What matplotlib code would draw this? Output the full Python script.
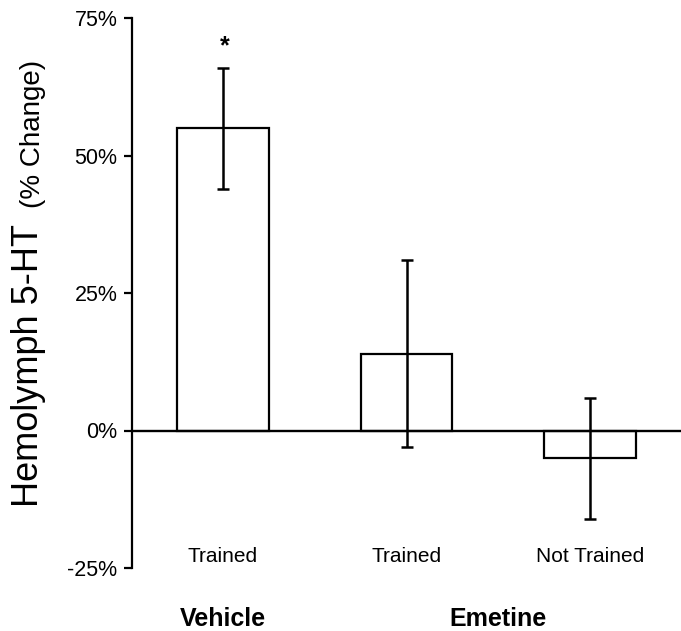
import matplotlib
matplotlib.use("Agg")
from matplotlib import pyplot as plt
import numpy as np

# values (% change of hemolymph 5-HT)
conditions = ["Trained", "Trained", "Not Trained"]
groups = ["Vehicle", "Emetine"]
group_pos = [0, 1.5]
means = [55, 14, -5]
err_low = [44, -3, -16]
err_high = [66, 31, 6]
yticks = [-25, 0, 25, 50, 75]

plt.rcParams['font.family'] = ['Liberation Sans', 'DejaVu Sans']

fig = plt.figure(figsize=(6.81, 6.31), dpi=100)
ax = fig.add_axes([132 / 681, 63 / 631, 549 / 681, 550 / 631])

x = np.arange(len(means))
means = np.array(means)
yerr = np.vstack([means - np.array(err_low), np.array(err_high) - means])

ax.bar(x, means, width=0.5, color="white", edgecolor="black", linewidth=1.6, zorder=2)
ax.errorbar(x, means, yerr=yerr, fmt="none", ecolor="black", elinewidth=1.8,
            capsize=4.5, capthick=1.8, zorder=3)
ax.axhline(0, color="black", linewidth=1.7, zorder=4)

ax.set_xlim(-0.496, 2.496)
ax.set_ylim(-25, 75)
ax.set_yticks(yticks)
ax.set_yticklabels([f"{t}%" for t in yticks], fontsize=15.5)
ax.tick_params(axis="y", length=6, width=1.6, pad=4.5)
ax.set_xticks([])
for s in ["top", "right", "bottom"]:
    ax.spines[s].set_visible(False)
ax.spines["left"].set_linewidth(1.6)

for xi, lab in zip(x, conditions):
    ax.text(xi, -22.9, lab, ha="center", va="center", fontsize=15)
for gx, g in zip(group_pos, groups):
    ax.text(gx, -34.2, g, ha="center", va="center", fontsize=18,
            fontweight="bold", clip_on=False)

# significance marker
ax.text(0.01, 68.5, "*", ha="center", va="baseline", fontsize=18, fontweight="bold")

# y label: large + small part
fig.text(38 / 681, (631 - 507) / 631, "Hemolymph 5-HT", rotation=90,
         rotation_mode="anchor", ha="left", va="baseline", fontsize=26)
fig.text(40 / 681, (631 - 208) / 631, "(% Change)", rotation=90,
         rotation_mode="anchor", ha="left", va="baseline", fontsize=20)

fig.savefig("out.png", dpi=100)
